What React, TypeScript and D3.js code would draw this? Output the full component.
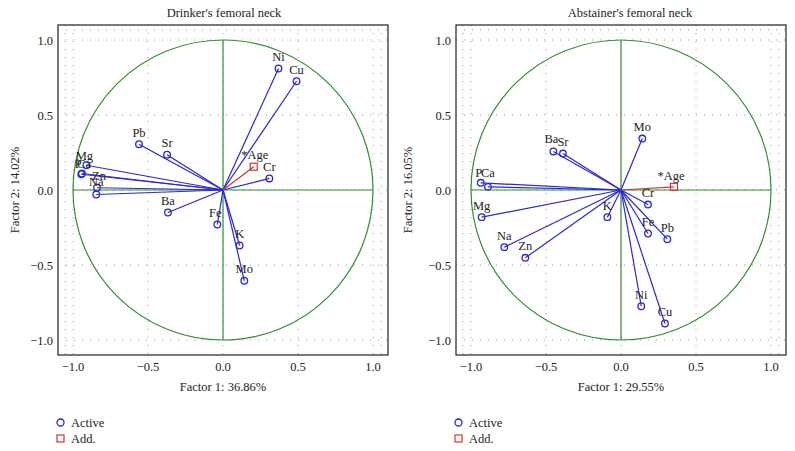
import React from "react";
import * as d3 from "d3";

// ---------- data ----------
const drinkerNames = ["Ni", "Cu", "Pb", "Sr", "Mg", "Ca", "P", "Zn", "Na", "Cr", "Ba", "Fe", "K", "Mo"];
const drinkerF1 = [0.37, 0.49, -0.56, -0.373, -0.911, -0.94, -0.945, -0.84, -0.845, 0.309, -0.367, -0.038, 0.111, 0.142];
const drinkerF2 = [0.81, 0.725, 0.305, 0.235, 0.165, 0.11, 0.105, 0.015, -0.03, 0.077, -0.15, -0.23, -0.37, -0.605];
const drinkerAge = [0.205, 0.155];

const abstainerNames = ["Mo", "Ba", "Sr", "P", "Ca", "Cr", "Mg", "K", "Fe", "Pb", "Na", "Zn", "Ni", "Cu"];
const abstainerF1 = [0.142, -0.451, -0.387, -0.935, -0.887, 0.18, -0.929, -0.091, 0.18, 0.309, -0.778, -0.638, 0.135, 0.293];
const abstainerF2 = [0.343, 0.257, 0.243, 0.048, 0.021, -0.097, -0.181, -0.181, -0.29, -0.328, -0.381, -0.452, -0.775, -0.89];
const abstainerAge = [0.353, 0.021];

const tickValues = [-1.0, -0.5, 0, 0.5, 1.0];
const suppName = "*Age";
const legendLabels = ["Active", "Add."];

// ---------- style ----------
const FONT = "'Liberation Serif', 'Times New Roman', serif";
const BLUE = "#2828d2";
const GREEN = "#2f8f2f";
const RED = "#d23434";
const GRID = "#9a9a9a";

type Off = Record<string, [number, number]>;
const drinkerOffsets: Off = {
  Mg: [-2, -5],
  Ca: [2, -6],
  P: [-3, -6],
  Zn: [2, -8],
  Na: [0, -9],
  Fe: [-2, -8],
  [suppName]: [1, -8],
};
const abstainerOffsets: Off = {
  P: [-2, -6],
  Ca: [0, -10],
  Ba: [-2, -8],
  [suppName]: [-3, -7],
};

interface PanelProps {
  x0: number;
  names: string[];
  f1: number[];
  f2: number[];
  age: number[];
  title: string;
  titleDx: number;
  xLabel: string;
  yLabel: string;
  yLabelX: number;
  offsets: Off;
}

const Panel: React.FC<PanelProps> = ({ x0, names, f1, f2, age, title, titleDx, xLabel, yLabel, yLabelX, offsets }) => {
  const left = x0 + 58;
  const right = x0 + 388;
  const top = 25;
  const bottom = 355;
  const x = d3.scaleLinear().domain([-1.1, 1.1]).range([left, right]);
  const y = d3.scaleLinear().domain([-1.1, 1.1]).range([bottom, top]);
  const fmt = d3.format(".1f");
  const cx = x(0);
  const cy = y(0);
  const r = x(1) - x(0);

  const lbl = (name: string, px: number, py: number) => {
    const o = offsets[name] || [0, -7.5];
    return (
      <text key={"l" + name} x={px + o[0]} y={py + o[1]} textAnchor="middle" fontSize={12.5} fontFamily={FONT} fill="#222">
        {name}
      </text>
    );
  };

  return (
    <g>
      {/* grid */}
      {tickValues.map((t) => (
        <g key={"g" + t}>
          <line x1={x(t)} x2={x(t)} y1={top} y2={bottom} stroke={GRID} strokeWidth={1} strokeDasharray="1,7" />
          <line x1={left} x2={right} y1={y(t)} y2={y(t)} stroke={GRID} strokeWidth={1} strokeDasharray="1,7" />
        </g>
      ))}
      {/* inner minor dots */}
      <line x1={left + 7} x2={left + 7} y1={top} y2={bottom} stroke={GRID} strokeDasharray="1,7" />
      <line x1={left} x2={right} y1={top + 5} y2={top + 5} stroke={GRID} strokeDasharray="1,7" />
      <line x1={right - 7} x2={right - 7} y1={top} y2={bottom} stroke={GRID} strokeDasharray="1,7" />
      {/* unit circle and axes */}
      <circle cx={cx} cy={cy} r={r} fill="none" stroke={GREEN} strokeWidth={1.2} />
      <line x1={x(-1)} x2={x(1)} y1={cy} y2={cy} stroke={GREEN} strokeWidth={1.2} />
      <line x1={cx} x2={cx} y1={y(-1)} y2={y(1)} stroke={GREEN} strokeWidth={1.2} />
      {/* frame */}
      <rect x={left} y={top} width={right - left} height={bottom - top} fill="none" stroke="#222" strokeWidth={1.2} />
      {/* vectors */}
      {names.map((n, i) => (
        <line key={"v" + n} x1={cx} y1={cy} x2={x(f1[i])} y2={y(f2[i])} stroke={BLUE} strokeWidth={1.2} />
      ))}
      <line x1={cx} y1={cy} x2={x(age[0])} y2={y(age[1])} stroke={RED} strokeWidth={1.2} />
      {names.map((n, i) => (
        <circle key={"c" + n} cx={x(f1[i])} cy={y(f2[i])} r={3.3} fill="white" fillOpacity={0} stroke={BLUE} strokeWidth={1.3} />
      ))}
      <rect x={x(age[0]) - 3.5} y={y(age[1]) - 3.5} width={7} height={7} fill="none" stroke={RED} strokeWidth={1.2} />
      {names.map((n, i) => lbl(n, x(f1[i]), y(f2[i])))}
      {lbl(suppName, x(age[0]), y(age[1]))}
      {/* tick labels */}
      {tickValues.map((t) => (
        <text key={"xt" + t} x={x(t)} y={371} textAnchor="middle" fontSize={12.5} fontFamily={FONT} fill="#222">
          {fmt(t)}
        </text>
      ))}
      {tickValues.map((t) => (
        <text key={"yt" + t} x={left - 5} y={y(t) + 4.5} textAnchor="end" fontSize={12.5} fontFamily={FONT} fill="#222">
          {fmt(t)}
        </text>
      ))}
      {/* titles */}
      <text x={(left + right) / 2 + titleDx} y={17} textAnchor="middle" fontSize={12.5} fontFamily={FONT} fill="#222">
        {title}
      </text>
      <text x={(left + right) / 2} y={391} textAnchor="middle" fontSize={12.5} fontFamily={FONT} fill="#222">
        {xLabel}
      </text>
      <text
        transform={`translate(${yLabelX},${cy}) rotate(-90)`}
        textAnchor="middle"
        fontSize={12.5}
        fontFamily={FONT}
        fill="#222"
      >
        {yLabel}
      </text>
      {/* legend */}
      <circle cx={x0 + 60.5} cy={422.5} r={3.5} fill="none" stroke={BLUE} strokeWidth={1.3} />
      <text x={x0 + 71} y={427} fontSize={12.5} fontFamily={FONT} fill="#222">
        {legendLabels[0]}
      </text>
      <rect x={x0 + 57} y={435} width={7} height={7} fill="none" stroke={RED} strokeWidth={1.2} />
      <text x={x0 + 71} y={443} fontSize={12.5} fontFamily={FONT} fill="#222">
        {legendLabels[1]}
      </text>
    </g>
  );
};

export default function App() {
  return (
    <div style={{ position: "fixed", left: 0, top: 0 }}>
      <svg width={795} height={451} style={{ display: "block", background: "white" }}>
        <Panel
          x0={0}
          names={drinkerNames}
          f1={drinkerF1}
          f2={drinkerF2}
          age={drinkerAge}
          title="Drinker's femoral neck"
          titleDx={1}
          xLabel="Factor 1: 36.86%"
          yLabel="Factor 2: 14.02%"
          yLabelX={19}
          offsets={drinkerOffsets}
        />
        <Panel
          x0={398}
          names={abstainerNames}
          f1={abstainerF1}
          f2={abstainerF2}
          age={abstainerAge}
          title="Abstainer's femoral neck"
          titleDx={9}
          xLabel="Factor 1: 29.55%"
          yLabel="Factor 2: 16.05%"
          yLabelX={412}
          offsets={abstainerOffsets}
        />
      </svg>
    </div>
  );
}
